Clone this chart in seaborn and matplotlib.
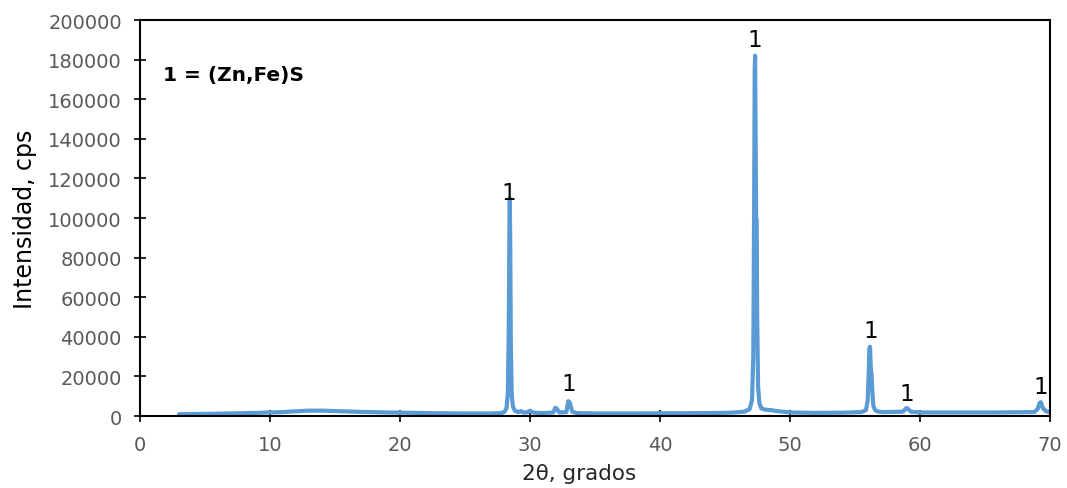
import matplotlib
matplotlib.use("Agg")
import matplotlib.pyplot as plt
import seaborn as sns
import pandas as pd

# Diffraction pattern: 2-theta (degrees) and intensity (counts per second)
two_theta = [
    3.0, 5.0, 7.0, 9.0, 11.0, 12.0, 13.0, 14.0, 15.0, 17.0, 19.0, 21.0, 23.0, 25.0, 27.0,
    27.8, 28.05, 28.2, 28.3, 28.37, 28.42, 28.45, 28.48, 28.53, 28.6, 28.7, 28.85, 29.1,
    29.3, 29.5, 29.8, 30.0, 30.2, 30.5, 31.0, 31.8, 31.95, 32.05, 32.25, 32.8, 32.95,
    33.05, 33.25, 33.6, 35.0, 38.0, 41.0, 44.0, 45.5, 46.5, 46.9, 47.08, 47.18, 47.24,
    47.29, 47.32, 47.36, 47.4, 47.44, 47.48, 47.55, 47.65, 47.8, 48.1, 48.5, 49.0, 50.0,
    52.0, 54.0, 55.5, 55.85, 55.98, 56.06, 56.11, 56.16, 56.22, 56.28, 56.34, 56.42,
    56.55, 56.8, 57.2, 58.7, 58.95, 59.05, 59.3, 60.0, 63.0, 66.0, 68.8, 69.05, 69.2,
    69.3, 69.45, 69.7, 70.0,
]
intensity = [
    900, 1100, 1300, 1600, 2000, 2400, 2700, 2700, 2500, 2100, 1800, 1600, 1400, 1300, 1300,
    1500, 2200, 4000, 12000, 45000, 95000, 110000, 90000, 35000, 10000, 4500, 2600, 2000,
    2500, 1800, 1900, 2700, 1800, 1600, 1500, 1800, 4200, 3800, 1800, 2000, 7500,
    7000, 2200, 1500, 1300, 1300, 1400, 1500, 1700, 2200, 3500, 8000, 30000, 100000,
    175000, 182000, 140000, 100000, 99000, 50000, 15000, 6500, 3800, 3200, 3000, 2500, 1800,
    1600, 1700, 2000, 3000, 8000, 22000, 34000, 35000, 24000, 21000, 12000, 5000,
    3000, 2200, 2000, 2200, 4000, 3800, 2200, 1800, 1800, 1800, 2000, 3500, 6500,
    7000, 4000, 2400, 2000,
]

# Phase markers placed above the indexed reflections
marker_x = [28.4, 33.0, 47.3, 56.2, 59.0, 69.3]
marker_y = [113000, 16500, 190000, 43000, 11500, 15000]
marker_text = ["1", "1", "1", "1", "1", "1"]

legend_text = "1 = (Zn,Fe)S"
x_ticks = [0, 10, 20, 30, 40, 50, 60, 70]
y_ticks = [0, 20000, 40000, 60000, 80000, 100000, 120000, 140000, 160000, 180000, 200000]

sns.set_style("white")
plt.rcParams["font.family"] = ["DejaVu Sans"]

df = pd.DataFrame({"two_theta": two_theta, "intensity": intensity})

fig = plt.figure(figsize=(10.67, 4.89), dpi=100)
ax = fig.add_axes([0.1312, 0.1472, 0.8528, 0.8098])

sns.lineplot(data=df, x="two_theta", y="intensity", ax=ax, color="#5B9BD5",
             linewidth=3.0, sort=False, estimator=None)

for x, y, t in zip(marker_x, marker_y, marker_text):
    ax.text(x, y, t, ha="center", va="center", fontsize=16.5, color="black")

ax.text(1.8, 172500, legend_text, ha="left", va="center", fontsize=14.5,
        fontweight="bold", color="black")

ax.set_xlim(0, 70)
ax.set_ylim(0, 200000)
ax.set_xticks(x_ticks)
ax.set_yticks(y_ticks)
ax.set_xticklabels([str(v) for v in x_ticks])
ax.set_yticklabels([str(v) for v in y_ticks])
ax.tick_params(axis="both", direction="inout", length=8, width=1.2, color="black",
               labelsize=14, labelcolor="#595959")
ax.tick_params(axis="x", pad=10, top=False, bottom=True)
ax.tick_params(axis="y", pad=9, right=False, left=True)

for side in ["left", "bottom", "right", "top"]:
    ax.spines[side].set_visible(True)
    ax.spines[side].set_color("black")
    ax.spines[side].set_linewidth(1.5)

ax.set_xlabel("2θ, grados", fontsize=15.5, color="#262626")
ax.set_ylabel("Intensidad, cps", fontsize=17, color="black")
ax.xaxis.set_label_coords(0.483, -0.118)
ax.yaxis.set_label_coords(-0.113, 0.5)
ax.grid(False)

fig.savefig("out.png", dpi=100)
